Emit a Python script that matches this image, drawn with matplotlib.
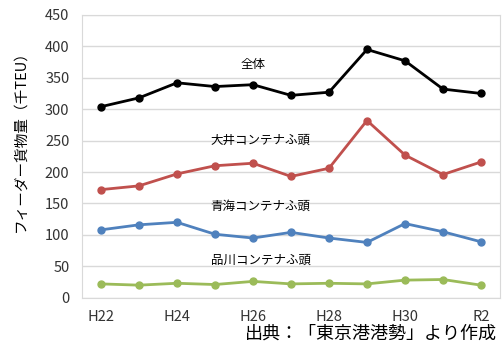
import numpy as np
import matplotlib.pyplot as plt

plt.rcParams['font.family'] = ['Noto Sans CJK JP', 'DejaVu Sans']

years = ['H22', 'H23', 'H24', 'H25', 'H26', 'H27', 'H28', 'H29', 'H30', 'H31', 'R2']
total = [304, 318, 342, 336, 339, 322, 327, 395, 377, 332, 325]
oi = [172, 178, 197, 210, 214, 193, 206, 282, 227, 196, 216]
aomi = [108, 116, 120, 101, 95, 104, 95, 88, 118, 105, 89]
shinagawa = [22, 20, 23, 21, 26, 22, 23, 22, 28, 29, 20]

x = np.arange(len(years))

fig = plt.figure(figsize=(5.03, 3.47), dpi=100)
ax = fig.add_axes([0.163, 0.142, 0.831, 0.815])

ax.plot(x, total, '-o', color='black', lw=2, ms=5)
ax.plot(x, oi, '-o', color='#C0504D', lw=2, ms=5)
ax.plot(x, aomi, '-o', color='#4F81BD', lw=2, ms=5)
ax.plot(x, shinagawa, '-o', color='#9BBB59', lw=2, ms=5)

ax.text(4.0, 371, '全体', ha='center', va='center', fontsize=9)
ax.text(4.2, 251, '大井コンテナふ頭', ha='center', va='center', fontsize=9)
ax.text(4.2, 145, '青海コンテナふ頭', ha='center', va='center', fontsize=9)
ax.text(4.2, 59, '品川コンテナふ頭', ha='center', va='center', fontsize=9)

ax.set_xlim(-0.5, 10.5)
ax.set_ylim(0, 450)
ax.set_yticks(np.arange(0, 451, 50))
ax.set_xticks(x[::2])
ax.set_xticklabels(years[::2])
ax.tick_params(length=0, labelsize=10.5, colors='#333333')
ax.tick_params(axis='x', pad=9)
ax.tick_params(axis='y', pad=9)
ax.grid(axis='y', color='#D9D9D9', lw=1)
ax.set_axisbelow(True)
for s in ax.spines.values():
    s.set_color('#D9D9D9')

ax.set_ylabel('フィーダー貨物量（千TEU）', fontsize=10.5)
ax.yaxis.set_label_coords(-0.13, 0.567)

fig.text(0.988, 0.012, '出典：「東京港港勢」より作成', ha='right', va='bottom', fontsize=13)

fig.savefig('out.png')
